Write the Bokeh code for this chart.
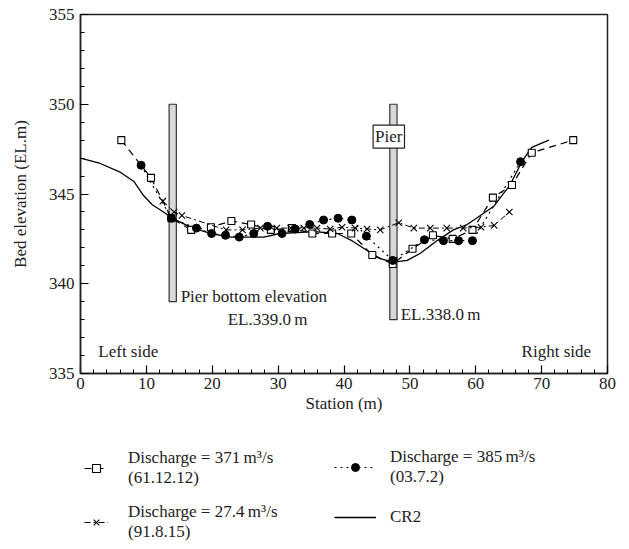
from bokeh.plotting import figure
from bokeh.models import (Range1d, SingleIntervalTicker, Label, Legend, LegendItem)
from bokeh.layouts import column
from bokeh.embed import file_html
from bokeh.resources import INLINE

FONT = "Liberation Serif"

# Discharge = 371 m3/s (61.12.12) - squares, dashed
s1_x = [6.2, 10.7, 13.8, 16.8, 19.8, 22.9, 25.9, 28.9, 32.1, 35.2, 38.2, 41.1, 44.3, 47.4, 50.4, 53.5, 56.5, 59.5, 62.6, 65.5, 68.5, 74.8]
s1_y = [348.0, 345.9, 343.65, 343.0, 343.15, 343.5, 343.3, 343.0, 343.1, 342.8, 342.8, 342.8, 341.6, 341.1, 341.95, 342.7, 342.5, 343.0, 344.8, 345.5, 347.3, 348.0]

# Discharge = 385 m3/s (03.7.2) - dots, dotted
s2_x = [9.2, 13.8, 17.6, 19.9, 22.0, 24.1, 26.3, 28.4, 30.6, 32.6, 34.8, 36.9, 39.1, 41.2, 43.4, 47.4, 52.2, 55.1, 57.4, 59.5, 66.8]
s2_y = [346.6, 343.65, 343.1, 342.8, 342.7, 342.6, 342.8, 343.2, 342.8, 343.05, 343.3, 343.55, 343.65, 343.55, 342.65, 341.3, 342.45, 342.4, 342.4, 342.4, 346.8]

# Discharge = 27.4 m3/s (91.8.15) - x markers, dash-dot
s3_x = [12.5, 14.2, 15.4, 22.1, 24.6, 27.3, 29.8, 31.9, 33.9, 35.9, 37.9, 39.7, 41.7, 43.5, 45.5, 48.3, 50.6, 53.1, 55.6, 58.1, 60.8, 62.8, 65.1]
s3_y = [344.6, 344.0, 343.8, 343.0, 343.0, 343.1, 343.1, 343.1, 343.1, 343.1, 343.05, 343.15, 343.1, 343.05, 343.0, 343.4, 343.1, 343.1, 343.1, 343.1, 343.15, 343.25, 344.0]

# CR2 - solid
cr_x = [0.0, 3.0, 6.1, 8.1, 9.6, 10.9, 12.6, 14.2, 16.7, 19.7, 22.8, 27.8, 30.3, 35.4, 39.0, 41.2, 43.5, 45.5, 47.5, 49.6, 51.6, 54.1, 56.6, 58.7, 60.7, 62.7, 65.2, 67.0, 68.5, 71.1]
cr_y = [347.0, 346.7, 346.2, 345.7, 344.9, 344.4, 344.0, 343.6, 343.15, 342.8, 342.6, 342.6, 342.8, 342.9, 342.8, 342.4, 341.85, 341.4, 341.2, 341.3, 341.7, 342.4, 343.0, 343.3, 343.8, 344.3, 345.5, 346.8, 347.6, 348.0]

# Piers
pier_station = [14.0, 47.5]
pier_bottom = [339.0, 338.0]
pier_top = [350.0, 350.0]
pier_half_width = 0.55

legend_labels = ["Discharge = 371\u2009m\u00b3/s\n(61.12.12)",
                 "Discharge = 27.4\u2009m\u00b3/s\n(91.8.15)",
                 "Discharge = 385\u2009m\u00b3/s\n(03.7.2)",
                 "CR2"]

# ---------------- main chart ----------------
p = figure(width=629, height=430, output_backend="svg", toolbar_location=None,
           x_range=Range1d(0, 80), y_range=Range1d(335, 355),
           min_border_left=80, min_border_top=14, min_border_right=22, min_border_bottom=57)
p.background_fill_color = "white"
p.border_fill_color = "white"
p.outline_line_color = "#222222"
p.outline_line_width = 1.5
p.xgrid.visible = False
p.ygrid.visible = False

p.xaxis.ticker = SingleIntervalTicker(interval=10, num_minor_ticks=5)
p.yaxis.ticker = SingleIntervalTicker(interval=5, num_minor_ticks=5)
for ax in (p.xaxis[0], p.yaxis[0]):
    ax.major_tick_in = 8
    ax.major_tick_out = 0
    ax.minor_tick_in = 4
    ax.minor_tick_out = 0
    ax.axis_line_color = "#222222"
    ax.axis_line_width = 1.5
    ax.major_tick_line_width = 1.2
    ax.major_label_text_font = FONT
    ax.major_label_text_font_size = "17px"
    ax.major_label_text_color = "#222222"
    ax.axis_label_text_font = FONT
    ax.axis_label_text_font_size = "17px"
    ax.axis_label_text_font_style = "normal"
    ax.axis_label_text_color = "#222222"
p.xaxis.axis_label = "Station (m)"
p.yaxis.axis_label = "Bed elevation (EL.m)"
p.xaxis.major_label_standoff = 4
p.yaxis.major_label_standoff = 6
p.xaxis.axis_label_standoff = 2
p.yaxis.axis_label_standoff = 16

# piers
left = [s - pier_half_width for s in pier_station]
right = [s + pier_half_width for s in pier_station]
p.quad(left=left, right=right, bottom=pier_bottom, top=pier_top,
       fill_color="#d9d9d9", line_color="#333333", line_width=1.2)

STY = dict(
    cr=dict(line=dict(line_color="black", line_width=1.3)),
    s1=dict(line=dict(line_color="black", line_width=1.2, line_dash="7 5"),
            mark=dict(marker="square", size=7, fill_color="white", line_color="black", line_width=1.1)),
    s2=dict(line=dict(line_color="black", line_width=1.2, line_dash="2 4"),
            mark=dict(marker="circle", size=8, fill_color="black", line_color="black")),
    s3=dict(line=dict(line_color="black", line_width=1.0, line_dash="6 3 2 3"),
            mark=dict(marker="x", size=9, line_color="black", line_width=1.1)),
)
SER = dict(s1=(s1_x, s1_y), s2=(s2_x, s2_y), s3=(s3_x, s3_y), cr=(cr_x, cr_y))

for key in ("cr", "s1", "s2", "s3"):
    xs, ys = SER[key]
    p.line(xs, ys, **STY[key]["line"])
    if "mark" in STY[key]:
        p.scatter(xs, ys, **STY[key]["mark"])

# annotations
def lab(x, y, t, align="left", baseline="middle", **kw):
    l = Label(x=x, y=y, text=t, text_font=FONT, text_font_size="17px", text_color="#222222",
              text_align=align, text_baseline=baseline, **kw)
    p.add_layout(l)
    return l

lab(15.2, 339.3, "Pier bottom elevation")
lab(28.4, 338.0, "EL.339.0\u2009m", align="center")
lab(48.6, 338.3, "EL.338.0\u2009m")
lab(2.7, 336.2, "Left side")
lab(77.5, 336.2, "Right side", align="right")
lab(46.8, 348.2, "Pier", align="center", border_line_color="#222222", border_line_width=1.2,
    background_fill_color="white", padding=2)

# ---------------- legend panel ----------------
# the y range lies far from the data, so the series themselves fall outside this panel
lg = figure(width=629, height=119, output_backend="svg", toolbar_location=None,
            x_range=Range1d(0, 80), y_range=Range1d(0, 1),
            min_border=0, x_axis_type=None, y_axis_type=None)
lg.outline_line_color = None
lg.xgrid.visible = False
lg.ygrid.visible = False
lg.background_fill_color = "white"
lg.border_fill_color = "white"

def legend_renderers(key):
    xs, ys = SER[key]
    rs = [lg.line(xs, ys, **STY[key]["line"])]
    if "mark" in STY[key]:
        rs.append(lg.scatter(xs, ys, **STY[key]["mark"]))
    return rs

def make_legend(items, loc, glyph_w, standoff, spacing):
    lgd = Legend(items=items, orientation="vertical")
    lgd.label_text_font = FONT
    lgd.label_text_font_size = "17px"
    lgd.label_text_color = "#222222"
    lgd.border_line_color = None
    lgd.background_fill_alpha = 0
    lgd.glyph_width = glyph_w
    lgd.label_standoff = standoff
    lgd.spacing = spacing
    lgd.location = loc
    lgd.margin = 0
    lgd.padding = 0
    lg.add_layout(lgd, "center")
    return lgd

make_legend([LegendItem(label=legend_labels[0], renderers=legend_renderers("s1")),
             LegendItem(label=legend_labels[1], renderers=legend_renderers("s3"))], (4, 7), 24, 20, 14)
make_legend([LegendItem(label=legend_labels[2], renderers=legend_renderers("s2")),
             LegendItem(label=legend_labels[3], renderers=legend_renderers("cr"))], (254, 22), 42, 14, 20)

open("out.html", "w").write(file_html(column(p, lg, spacing=0), INLINE))
